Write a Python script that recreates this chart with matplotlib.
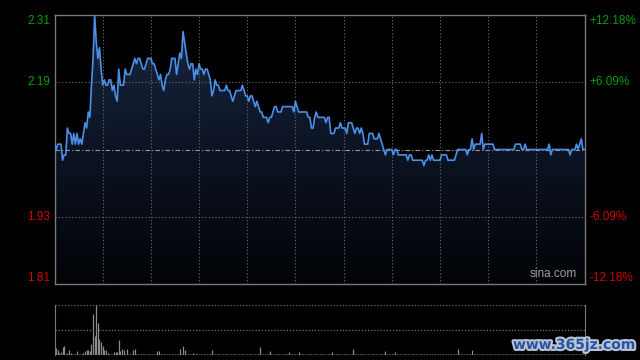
import numpy as np
import matplotlib
matplotlib.use("Agg")
from matplotlib import pyplot as plt
from matplotlib.colors import LinearSegmentedColormap
from matplotlib.patches import PathPatch
import matplotlib.patheffects as pe

# intraday minute prices (331 points, HK session)
prices = [
    2.07, 2.06, 2.07, 2.07, 2.07, 2.04, 2.05, 2.05, 2.10, 2.09,
    2.09, 2.07, 2.09, 2.07, 2.09, 2.07, 2.08, 2.07, 2.09, 2.11,
    2.10, 2.13, 2.12, 2.18, 2.23, 2.31, 2.26, 2.23, 2.25, 2.21,
    2.18, 2.19, 2.18, 2.18, 2.19, 2.19, 2.17, 2.18, 2.16, 2.15,
    2.21, 2.18, 2.18, 2.18, 2.21, 2.20, 2.20, 2.20, 2.21, 2.22,
    2.23, 2.22, 2.23, 2.23, 2.22, 2.21, 2.21, 2.22, 2.23, 2.23,
    2.23, 2.22, 2.22, 2.21, 2.20, 2.19, 2.20, 2.18, 2.17, 2.19,
    2.20, 2.20, 2.21, 2.23, 2.23, 2.23, 2.20, 2.22, 2.24, 2.23,
    2.28, 2.26, 2.24, 2.22, 2.21, 2.22, 2.22, 2.19, 2.21, 2.20,
    2.22, 2.21, 2.21, 2.20, 2.21, 2.21, 2.20, 2.19, 2.16, 2.17,
    2.19, 2.18, 2.18, 2.17, 2.17, 2.17, 2.17, 2.18, 2.17, 2.17,
    2.16, 2.15, 2.16, 2.17, 2.17, 2.17, 2.17, 2.18, 2.17, 2.16,
    2.16, 2.15, 2.16, 2.16, 2.15, 2.14, 2.15, 2.14, 2.13, 2.13,
    2.12, 2.12, 2.12, 2.11, 2.12, 2.12, 2.13, 2.14, 2.14, 2.13,
    2.13, 2.13, 2.14, 2.14, 2.14, 2.14, 2.14, 2.14, 2.14, 2.13,
    2.15, 2.14, 2.13, 2.13, 2.13, 2.13, 2.13, 2.13, 2.12, 2.12,
    2.10, 2.10, 2.12, 2.13, 2.12, 2.12, 2.12, 2.12, 2.12, 2.11,
    2.12, 2.12, 2.09, 2.09, 2.09, 2.10, 2.10, 2.10, 2.11, 2.10,
    2.10, 2.10, 2.09, 2.11, 2.11, 2.11, 2.10, 2.09, 2.10, 2.10,
    2.09, 2.10, 2.09, 2.07, 2.07, 2.07, 2.09, 2.09, 2.09, 2.08,
    2.08, 2.08, 2.09, 2.08, 2.07, 2.06, 2.05, 2.06, 2.06, 2.06,
    2.06, 2.05, 2.06, 2.06, 2.05, 2.05, 2.05, 2.05, 2.05, 2.05,
    2.04, 2.05, 2.05, 2.04, 2.04, 2.04, 2.04, 2.04, 2.04, 2.04,
    2.03, 2.04, 2.04, 2.05, 2.04, 2.05, 2.04, 2.04, 2.04, 2.04,
    2.04, 2.05, 2.05, 2.05, 2.05, 2.04, 2.04, 2.04, 2.04, 2.04,
    2.05, 2.06, 2.06, 2.06, 2.06, 2.06, 2.06, 2.05, 2.06, 2.06,
    2.08, 2.06, 2.07, 2.07, 2.07, 2.07, 2.09, 2.06, 2.07, 2.07,
    2.07, 2.07, 2.07, 2.07, 2.06, 2.06, 2.06, 2.06, 2.06, 2.06,
    2.06, 2.06, 2.06, 2.06, 2.06, 2.06, 2.06, 2.07, 2.07, 2.07,
    2.07, 2.06, 2.06, 2.07, 2.06, 2.06, 2.06, 2.06, 2.06, 2.06,
    2.06, 2.06, 2.06, 2.06, 2.06, 2.06, 2.06, 2.06, 2.07, 2.05,
    2.06, 2.06, 2.06, 2.06, 2.06, 2.06, 2.06, 2.06, 2.06, 2.06,
    2.06, 2.05, 2.06, 2.06, 2.06, 2.07, 2.06, 2.07, 2.08, 2.06,
    2.06,
]

volumes = [
    13, 14, 10, 4, 6, 15, 18, 2, 3, 10,
    3, 1, 2, 2, 8, 1, 2, 1, 3, 8,
    10, 10, 7, 22, 82, 38, 100, 63, 31, 26,
    18, 9, 10, 3, 2, 1, 2, 6, 6, 6,
    30, 8, 12, 9, 2, 11, 2, 1, 2, 10,
    12, 1, 2, 1, 2, 1, 2, 1, 1, 2,
    1, 2, 1, 2, 8, 8, 2, 1, 2, 1,
    2, 1, 2, 2, 1, 2, 1, 2, 11, 2,
    18, 9, 1, 2, 1, 2, 3, 1, 2, 1,
    2, 1, 2, 1, 2, 1, 2, 1, 10, 2,
    1, 2, 1, 2, 2, 1, 2, 1, 2, 1,
    2, 1, 2, 1, 2, 1, 2, 1, 2, 1,
    2, 1, 2, 1, 2, 1, 2, 1, 15, 2,
    1, 2, 1, 2, 8, 1, 2, 1, 2, 1,
    2, 1, 2, 1, 2, 1, 6, 1, 2, 1,
    2, 1, 6, 1, 2, 1, 2, 1, 2, 1,
    2, 1, 2, 1, 2, 1, 2, 1, 2, 1,
    2, 1, 2, 6, 1, 2, 1, 2, 1, 2,
    1, 2, 1, 2, 1, 2, 12, 1, 2, 1,
    2, 1, 2, 1, 2, 1, 2, 1, 2, 1,
    2, 1, 2, 1, 2, 1, 8, 1, 2, 1,
    2, 1, 6, 1, 2, 1, 2, 1, 2, 1,
    2, 1, 2, 1, 2, 1, 2, 1, 2, 1,
    2, 1, 2, 1, 2, 1, 2, 1, 2, 1,
    2, 1, 2, 1, 2, 1, 2, 1, 2, 1,
    2, 11, 2, 1, 2, 1, 2, 1, 2, 1,
    10, 1, 2, 1, 2, 1, 2, 1, 2, 1,
    2, 1, 2, 1, 2, 1, 2, 1, 2, 1,
    2, 1, 2, 1, 2, 1, 2, 1, 2, 1,
    2, 1, 2, 1, 2, 1, 2, 1, 2, 1,
    2, 1, 2, 1, 2, 1, 2, 1, 2, 1,
    2, 1, 2, 1, 2, 1, 2, 1, 2, 1,
    2, 1, 2, 1, 2, 1, 2, 1, 2, 1,
    2,
]

prev_close = 2.06
pct_range = 0.1218
left_labels = ["2.31", "2.19", "1.93", "1.81"]
right_labels = ["+12.18%", "+6.09%", "-6.09%", "-12.18%"]

up_color = "#00a000"
down_color = "#d00000"
grid_color = "#6e6e6e"
spine_color = "#7a7a7a"

minutes = np.arange(len(prices))
n_last = len(prices) - 1
span = prev_close * pct_range
ylo, yhi = prev_close - span, prev_close + span

fig = plt.figure(figsize=(6.4, 3.6), dpi=100, facecolor="black")

# ---- price panel
ax = fig.add_axes([0.0852, 0.2111, 0.8281, 0.7472], facecolor="black")

grad = LinearSegmentedColormap.from_list("g", ["#020306", "#0c1424", "#1a2843"])
img = ax.imshow(np.linspace(0, 1, 256).reshape(-1, 1), extent=[0, n_last, ylo, yhi],
                origin="lower", aspect="auto", cmap=grad, zorder=1)
fill = ax.fill_between(minutes, prices, ylo, facecolor="none", edgecolor="none")
clip = PathPatch(fill.get_paths()[0], transform=ax.transData, facecolor="none", edgecolor="none")
ax.add_patch(clip)
img.set_clip_path(clip)

for g in range(30, n_last, 30):
    ax.axvline(g, color=grid_color, lw=0.8, ls=(0, (1, 2)), zorder=2)
for lv in [prev_close + span / 2, prev_close - span / 2]:
    ax.axhline(lv, color=grid_color, lw=0.8, ls=(0, (1, 2)), zorder=2)
ax.axhline(prev_close, color="#9a9a9a", lw=0.8, ls=(0, (4, 2, 1, 2)), zorder=2)

ax.plot(minutes, prices, color="#4b8fe6", lw=1.2, zorder=3)

ax.set_xlim(0, n_last)
ax.set_ylim(ylo, yhi)
ax.set_xticks([])
ax.set_yticks([])
for s in ax.spines.values():
    s.set_color(spine_color)
    s.set_linewidth(1)

levels = [yhi, prev_close + span / 2, prev_close - span / 2, ylo]
valigns = ["top", "center", "center", "bottom"]
cols = [up_color, up_color, down_color, down_color]
for lv, la, ra, va, c in zip(levels, left_labels, right_labels, valigns, cols):
    ax.text(-0.008, lv, la, transform=ax.get_yaxis_transform(), ha="right", va=va,
            color=c, fontsize=8.5, family="Liberation Sans", clip_on=False)
    ax.text(1.01, lv, ra, transform=ax.get_yaxis_transform(), ha="left", va=va,
            color=c, fontsize=8.5, family="Liberation Sans", clip_on=False)

ax.text(0.985, 0.015, "sina.com", transform=ax.transAxes, ha="right", va="bottom",
        color="#a0a0a0", fontsize=8.5, family="Liberation Sans", zorder=4)

# ---- volume panel
vax = fig.add_axes([0.0852, 0.0139, 0.8281, 0.1389], facecolor="black")
vmax = max(volumes)
vax.vlines(minutes, 0, volumes, color="#8c8c8c", lw=0.9)
for lv in [vmax, vmax / 2]:
    vax.axhline(lv, color=grid_color, lw=0.9, ls=(0, (1, 1.5)))
vax.set_xlim(0, n_last)
vax.set_ylim(0, vmax)
vax.set_xticks([])
vax.set_yticks([])
for k in ["top", "bottom"]:
    vax.spines[k].set_visible(False)
for k in ["left", "right"]:
    vax.spines[k].set_color(spine_color)

fig.text(0.897, 0.042, "www.365jz.com", ha="center", va="center", color="#2553a0",
         fontsize=10, fontweight="bold", family="DejaVu Sans",
         path_effects=[pe.withStroke(linewidth=3, foreground="#b9c3d6")])

fig.savefig("out.png", dpi=100, facecolor="black")
